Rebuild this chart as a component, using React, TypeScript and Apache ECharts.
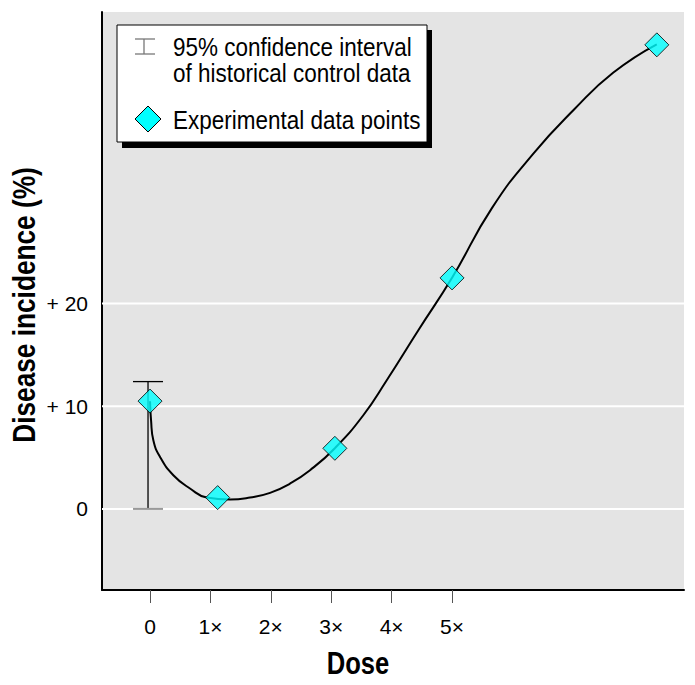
import React, { useEffect, useRef } from "react";
import * as echarts from "echarts";

const doseTickValues = [0, 1, 2, 3, 4, 5];
const doseTickLabels = ["0", "1×", "2×", "3×", "4×", "5×"];
const expDose = [0, 1.12, 3.06, 5.0, 8.39];
const expIncidence = [10.5, 1.1, 5.9, 22.5, 45.2];
const curveDose = [0, 0.017, 0.055, 0.166, 0.386, 0.662, 0.939, 1.325, 1.656, 1.987, 2.318, 2.649, 3.06, 3.531, 3.919, 4.442, 5.005, 5.66, 6.346, 7.02, 7.671, 8.389];
const curveIncidence = [10.49, 8.64, 6.69, 5.06, 3.28, 1.99, 1.11, 0.92, 1.11, 1.56, 2.47, 3.77, 5.91, 9.12, 12.53, 17.4, 22.56, 29.3, 34.61, 38.9, 42.5, 45.25];
const ciDose = [0];
const ciLower = [0];
const ciUpper = [12.4];
const yTickValues = [0, 10, 20];
const yTickLabels = ["0", "+ 10", "+ 20"];
const legendLines = ["95% confidence interval", "of historical control data", "Experimental data points"];
const xTitle = "Dose";
const yTitle = "Disease incidence (%)";

const FONT = '"Liberation Sans", Arial, sans-serif';

export default function App() {
  const ref = useRef<HTMLDivElement>(null);
  useEffect(() => {
    document.body.style.margin = "0";
    if (!ref.current) return;
    const chart = echarts.init(ref.current, null, { renderer: "svg" });
    const points = expDose.map((d, i) => [d, expIncidence[i]]);
    const curve = curveDose.map((d, i) => [d, curveIncidence[i]]);
    const ciData = ciDose.map((d, i) => [d, ciLower[i], ciUpper[i]]);
    chart.setOption({
      animation: false,
      grid: {
        left: 102,
        right: 11,
        top: 12,
        bottom: 95,
        show: true,
        backgroundColor: "#e4e4e4",
        borderWidth: 0,
      },
      xAxis: {
        type: "value",
        min: -0.795,
        max: 8.84,
        axisLine: { show: true, onZero: false, lineStyle: { color: "#000", width: 2 } },
        axisTick: { show: true, customValues: doseTickValues, length: 13, lineStyle: { color: "#555", width: 1 } },
        axisLabel: {
          customValues: doseTickValues,
          margin: 26,
          fontSize: 21,
          fontFamily: FONT,
          color: "#000",
          formatter: (v: number) => doseTickLabels[doseTickValues.indexOf(v)] ?? "",
        },
        splitLine: { show: false },
      },
      yAxis: {
        type: "value",
        min: -7.9,
        max: 48.4,
        axisLine: { show: true, onZero: false, lineStyle: { color: "#000", width: 2 } },
        axisTick: { show: false },
        axisLabel: {
          customValues: yTickValues,
          margin: 14,
          fontSize: 21,
          fontFamily: FONT,
          color: "#000",
          formatter: (v: number) => yTickLabels[yTickValues.indexOf(v)] ?? "",
        },
        splitLine: { show: false },
      },
      series: [
        {
          type: "custom",
          z: 1,
          silent: true,
          data: yTickValues.map((v) => [0, v]),
          renderItem: (params: any, api: any) => {
            const cs = params.coordSys;
            const y = api.coord([0, api.value(1)])[1];
            return {
              type: "line",
              shape: { x1: cs.x, y1: y, x2: cs.x + cs.width, y2: y },
              style: { stroke: "#fff", lineWidth: 2 },
            };
          },
        },
        {
          type: "custom",
          z: 2,
          silent: true,
          data: ciData,
          renderItem: (params: any, api: any) => {
            const x = api.value(0);
            const top = api.coord([x, api.value(2)]);
            const bot = api.coord([x, api.value(1)]);
            const hw = 15;
            return {
              type: "group",
              children: [
                { type: "line", shape: { x1: top[0] - 2, y1: top[1], x2: bot[0] - 2, y2: bot[1] }, style: { stroke: "#000", lineWidth: 1.3 } },
                { type: "line", shape: { x1: top[0] - hw - 2, y1: top[1], x2: top[0] + hw - 2, y2: top[1] }, style: { stroke: "#000", lineWidth: 1.3 } },
                { type: "line", shape: { x1: bot[0] - hw - 2, y1: bot[1], x2: bot[0] + hw - 2, y2: bot[1] }, style: { stroke: "#999", lineWidth: 2 } },
              ],
            };
          },
        },
        {
          type: "line",
          data: curve,
          z: 3,
          smooth: 0.5,
          symbol: "none",
          silent: true,
          lineStyle: { color: "#000", width: 2 },
        },
        {
          type: "scatter",
          data: points,
          z: 5,
          symbol: "diamond",
          symbolSize: 24,
          itemStyle: { color: "#00ffff", borderColor: "#000", borderWidth: 1 },
        },
      ],
      graphic: [
        { type: "rect", z: 10, shape: { x: 122, y: 30, width: 310, height: 118 }, style: { fill: "#000" } },
        { type: "rect", z: 11, shape: { x: 117, y: 25, width: 310, height: 117 }, style: { fill: "#fff", stroke: "#000", lineWidth: 1 } },
        { type: "line", z: 12, shape: { x1: 135, y1: 39, x2: 155, y2: 39 }, style: { stroke: "#777", lineWidth: 1.3 } },
        { type: "line", z: 12, shape: { x1: 144, y1: 39, x2: 144, y2: 54 }, style: { stroke: "#777", lineWidth: 1.3 } },
        { type: "line", z: 12, shape: { x1: 135, y1: 54, x2: 155, y2: 54 }, style: { stroke: "#777", lineWidth: 1.3 } },
        { type: "polygon", z: 12, shape: { points: [[148, 106], [161, 119], [148, 132], [135, 119]] }, style: { fill: "#00ffff", stroke: "#000", lineWidth: 1 } },
        { type: "text", z: 12, x: 173, y: 47, scaleX: 0.865, style: { text: legendLines[0], font: `26px ${FONT}`, fill: "#000", textVerticalAlign: "middle" } },
        { type: "text", z: 12, x: 173, y: 73, scaleX: 0.865, style: { text: legendLines[1], font: `26px ${FONT}`, fill: "#000", textVerticalAlign: "middle" } },
        { type: "text", z: 12, x: 173, y: 120, scaleX: 0.865, style: { text: legendLines[2], font: `26px ${FONT}`, fill: "#000", textVerticalAlign: "middle" } },
        { type: "text", z: 12, x: 358, y: 663, scaleX: 0.8, style: { text: xTitle, font: `bold 32px ${FONT}`, fill: "#000", textAlign: "center", textVerticalAlign: "middle" } },
        { type: "text", z: 12, x: 24, y: 305, rotation: Math.PI / 2, scaleX: 0.82, style: { text: yTitle, font: `bold 32px ${FONT}`, fill: "#000", textAlign: "center", textVerticalAlign: "middle" } },
      ],
    });
    return () => chart.dispose();
  }, []);
  return <div ref={ref} style={{ width: 695, height: 685 }} />;
}
